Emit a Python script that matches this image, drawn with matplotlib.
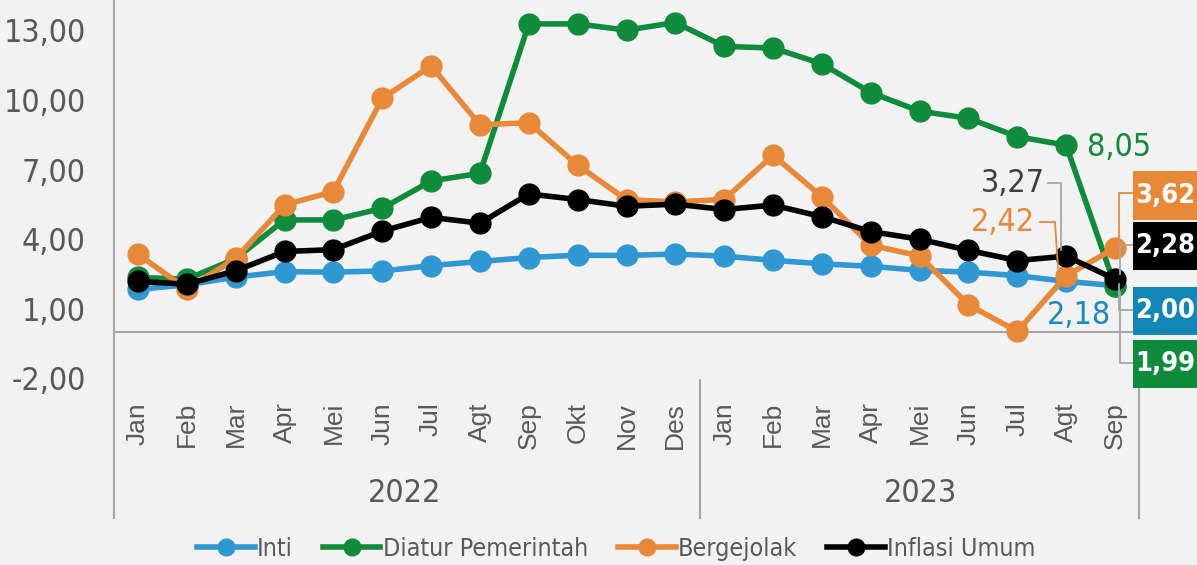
import matplotlib
matplotlib.use("Agg")
import matplotlib.pyplot as plt
from matplotlib import font_manager
from matplotlib.lines import Line2D
from matplotlib.patches import Rectangle

# pick a narrow font if we have one
names = {f.name for f in font_manager.fontManager.ttflist}
if "Liberation Sans Narrow" in names:
    NARROW = dict(family="Liberation Sans Narrow")
else:
    NARROW = dict(family="DejaVu Sans", stretch="condensed")
WIDE = dict(family="Liberation Sans")

months = ["Jan", "Feb", "Mar", "Apr", "Mei", "Jun", "Jul", "Agt", "Sep", "Okt", "Nov", "Des",
          "Jan", "Feb", "Mar", "Apr", "Mei", "Jun", "Jul", "Agt", "Sep"]
years = ["2022", "2023"]

inti = [1.84, 2.03, 2.37, 2.60, 2.58, 2.63, 2.86, 3.04, 3.21, 3.31, 3.30, 3.36,
        3.27, 3.09, 2.94, 2.83, 2.66, 2.58, 2.43, 2.18, 2.00]
diatur = [2.35, 2.28, 3.16, 4.83, 4.83, 5.33, 6.51, 6.84, 13.28, 13.28, 13.01, 13.34,
          12.31, 12.24, 11.56, 10.32, 9.52, 9.21, 8.42, 8.05, 1.99]
bergejolak = [3.35, 1.85, 3.17, 5.48, 6.05, 10.07, 11.47, 8.93, 9.02, 7.19, 5.70, 5.61,
              5.71, 7.62, 5.83, 3.74, 3.28, 1.17, 0.03, 2.42, 3.62]
umum = [2.18, 2.06, 2.64, 3.47, 3.55, 4.35, 4.94, 4.69, 5.95, 5.71, 5.42, 5.51,
        5.28, 5.47, 4.97, 4.33, 4.00, 3.52, 3.08, 3.27, 2.28]

C_BLUE = "#2f98d2"
C_GREEN = "#0f8c3b"
C_ORANGE = "#e8893a"
C_BLACK = "#000000"
C_GRAY = "#595959"
BG = "#f2f2f2"

W, H = 1197, 565
fig = plt.figure(figsize=(W / 100, H / 100), dpi=100, facecolor=BG)


def fp(x, y):
    # pixel -> figure fraction
    return x / W, 1 - y / H


ax = fig.add_axes([113.6 / W, 1 - 378.4 / H, (1139.4 - 113.6) / W, 378.4 / H])
ax.set_facecolor(BG)
x = list(range(len(months)))
series = [(inti, C_BLUE, "Inti"), (diatur, C_GREEN, "Diatur Pemerintah"),
          (bergejolak, C_ORANGE, "Bergejolak"), (umum, C_BLACK, "Inflasi Umum")]
for vals, col, lab in series:
    ax.plot(x, vals, color=col, lw=4, marker="o", ms=15, label=lab, clip_on=False, zorder=3)

ax.set_xlim(-0.5, len(months) - 0.5)
ax.set_ylim(-2, 14.31)
ax.axhline(0, color="#a6a6a6", lw=1.5, zorder=1)
for s in ax.spines.values():
    s.set_visible(False)
ax.set_yticks([13, 10, 7, 4, 1, -2])
ax.set_yticklabels([f"{v:.2f}".replace(".", ",") for v in [13, 10, 7, 4, 1, -2]],
                   color=C_GRAY, fontsize=23, **NARROW)
ax.set_xticks(x)
ax.set_xticklabels(months, rotation=90, color=C_GRAY, fontsize=19, **WIDE)
ax.tick_params(axis="both", length=0)
ax.tick_params(axis="x", pad=17)
ax.tick_params(axis="y", pad=20)

# category axis divider lines
for px, top in [(113.6, 0), (699.6, 380), (1139.4, 375)]:
    fig.add_artist(Line2D([px / W, px / W], [1 - top / H, 1 - 518 / H], color="#a6a6a6", lw=1.5))
for yr, cx in zip(years, [405, 921]):
    fig.text(*fp(cx, 494), yr, ha="center", va="center", color=C_GRAY, fontsize=23, **NARROW)

# end-of-series boxes
boxes = [("3,62", C_ORANGE, 171, 220), ("2,28", C_BLACK, 222, 270),
         ("2,00", "#1287b5", 287, 335), ("1,99", C_GREEN, 340, 388)]
for txt, col, y0, y1 in boxes:
    x0, yb = fp(1133, y1)
    fig.add_artist(Rectangle((x0, yb), 64 / W, (y1 - y0) / H, transform=fig.transFigure,
                             facecolor=col, edgecolor="none", zorder=5))
    fig.text(*fp(1165, (y0 + y1) / 2), txt, ha="center", va="center", color="white",
             fontsize=19.5, fontweight="bold", zorder=6, **NARROW)

# leader lines
leaders = [([(1133, 193), (1119, 193), (1119, 240)], C_ORANGE),
           ([(1133, 245), (1120, 245), (1120, 274)], "#a6a6a6"),
           ([(1133, 310), (1119, 310), (1119, 284)], "#a6a6a6"),
           ([(1133, 363), (1120, 363), (1120, 292)], "#a6a6a6"),
           ([(1048, 183), (1061, 183), (1061, 250)], "#a6a6a6"),
           ([(1040, 222), (1055, 222), (1058, 268)], C_ORANGE)]
for pts, col in leaders:
    xs = [p[0] / W for p in pts]
    ys = [1 - p[1] / H for p in pts]
    fig.add_artist(Line2D(xs, ys, color=col, lw=1.3, zorder=2))

fig.text(*fp(1087, 147), "8,05", ha="left", va="center", color=C_GREEN, fontsize=23, **NARROW)
fig.text(*fp(1045, 184), "3,27", ha="right", va="center", color="#404040", fontsize=23, **NARROW)
fig.text(*fp(1035, 222), "2,42", ha="right", va="center", color=C_ORANGE, fontsize=23, **NARROW)
fig.text(*fp(1079, 316), "2,18", ha="center", va="center", color="#1a8bbf", fontsize=23, **NARROW)

handles = [Line2D([], [], color=c, lw=4, marker="o", ms=12) for _, c, _ in series]
leg = fig.legend(handles, [s[2] for s in series], loc="center", bbox_to_anchor=(0.515, 0.028),
                 ncol=4, frameon=False, handlelength=2.3, handletextpad=0.1, columnspacing=1.2,
                 prop=dict(size=18, **NARROW))
for t in leg.get_texts():
    t.set_color(C_GRAY)

fig.savefig("out.png", dpi=100, facecolor=BG)
